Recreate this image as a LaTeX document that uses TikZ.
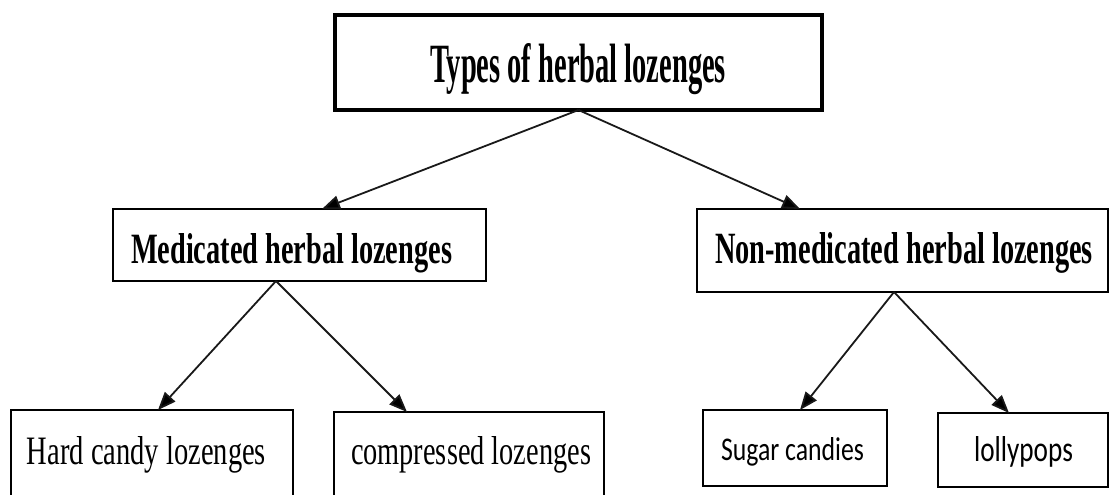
\documentclass[tikz,border=0pt]{standalone}
\usepackage{graphicx}
\usepackage{fontspec}
\setmainfont{Liberation Serif}
\newfontfamily\carlito{Carlito}
\usetikzlibrary{arrows.meta}
\begin{document}
\begin{tikzpicture}[x=1pt,y=-1pt,
  box/.style={draw=black, line width=1.8pt, inner sep=0pt, outer sep=0pt, rectangle},
  lbl/.style={inner sep=0pt, outer sep=0pt, anchor=base west, text=black},
  arr/.style={draw=black!90, line width=1.8pt, arrows={-Triangle[length=18pt,width=14pt,fill=black]}}]
\useasboundingbox (0,0) rectangle (1109,495);
\clip (0,0) rectangle (1109,495);
% boxes
\node[box, line width=3.2pt, minimum width=487pt, minimum height=95pt] (title) at (578.5,62.5) {};
\node[box, minimum width=373pt, minimum height=72pt] (med) at (299.5,245) {};
\node[box, minimum width=411pt, minimum height=83pt] (non) at (902.5,250.5) {};
\node[box, minimum width=282pt, minimum height=120pt] (hard) at (152,470) {};
\node[box, minimum width=270pt, minimum height=118pt] (comp) at (469,471) {};
\node[box, minimum width=184pt, minimum height=76pt] (sugar) at (795,448) {};
\node[box, minimum width=170pt, minimum height=74pt] (lolly) at (1023,450) {};
% texts
\node[lbl] (ttitle) at (430,83) {\resizebox{296pt}{39pt}{\bfseries Types of herbal lozenges}};
\node[lbl] (tmed) at (131,263) {\resizebox{321pt}{30pt}{\bfseries Medicated herbal lozenges}};
\node[lbl] (tnon) at (715,263) {\resizebox{378pt}{31pt}{\bfseries Non-medicated herbal lozenges}};
\node[lbl] (thard) at (27,464) {\resizebox{239pt}{28pt}{Hard candy lozenges}};
\node[lbl] (tcomp) at (351,464) {\resizebox{240pt}{28pt}{compressed lozenges}};
\node[lbl] (tsugar) at (721,460) {\resizebox{143pt}{23pt}{\carlito Sugar candies}};
\node[lbl] (tlolly) at (974,461) {\resizebox{99pt}{25pt}{\carlito lollypops}};
% arrows
\draw[arr] (title.south) -- ([xshift=22.5pt]med.north);
\draw[arr] (title.south) -- ([xshift=-102.5pt]non.north);
\draw[arr] ([xshift=-23.5pt]med.south) -- ([xshift=6pt]hard.north);
\draw[arr] ([xshift=-23.5pt]med.south) -- ([xshift=-62pt]comp.north);
\draw[arr] ([xshift=-8.5pt]non.south) -- ([xshift=5pt]sugar.north);
\draw[arr] ([xshift=-8.5pt]non.south) -- ([xshift=-14pt]lolly.north);
\end{tikzpicture}
\end{document}
